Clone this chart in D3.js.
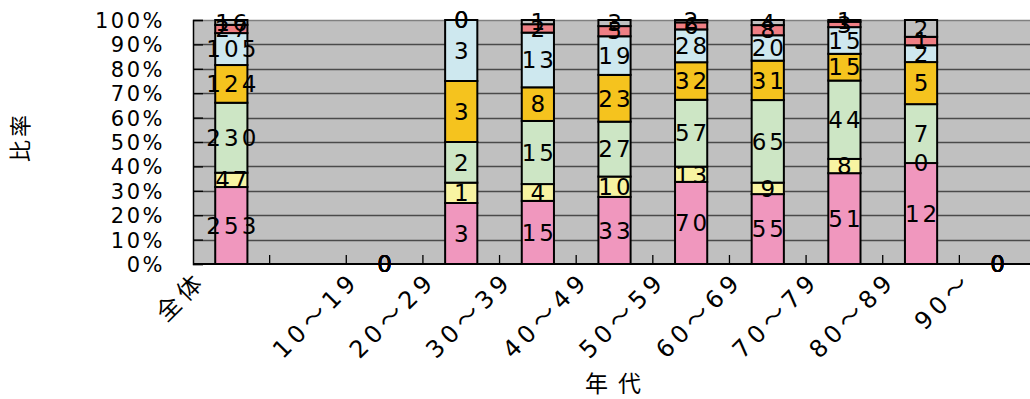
<!DOCTYPE html>
<html>
<head>
<meta charset="utf-8">
<script src="https://cdn.jsdelivr.net/npm/d3@7"></script>
<style>
  html, body { margin: 0; padding: 0; background: #fff; }
  svg { display: block; }
  text { font-family: "DejaVu Sans", "Noto Sans CJK JP", sans-serif; fill: #000; }
</style>
</head>
<body>
<svg id="chart" width="1030" height="399"></svg>
<script>
// Age groups (second slot is an empty spacer column)
const categories = ["全体", "", "10～19", "20～29", "30～39", "40～49", "50～59", "60～69", "70～79", "80～89", "90～"];

// Respondent counts per group, stacked bottom to top
const seriesA = [253, null, 0, 3, 15, 33, 70, 55, 51, 12, 0];
const seriesB = [47,  null, 0, 1, 4, 10, 13, 9, 8, 0, 0];
const seriesC = [230, null, 0, 2, 15, 27, 57, 65, 44, 7, 0];
const seriesD = [124, null, 0, 3, 8, 23, 32, 31, 15, 5, 0];
const seriesE = [105, null, 0, 3, 13, 19, 28, 20, 15, 2, 0];
const seriesF = [27,  null, 0, 0, 2, 5, 6, 8, 3, 1, 0];
const seriesG = [16,  null, 0, 0, 1, 3, 2, 4, 1, 2, 0];

const seriesList = [seriesA, seriesB, seriesC, seriesD, seriesE, seriesF, seriesG];
const seriesColors = ["#f097be", "#f8f4a2", "#cde6c5", "#f5c31e", "#cee8ef", "#ef7f84", "#c0c0c0"];

const yTicks = [0, 0.1, 0.2, 0.3, 0.4, 0.5, 0.6, 0.7, 0.8, 0.9, 1.0];

const svg = d3.select("#chart");
const plot = { left: 193, right: 1036, top: 20, bottom: 264 };

const x = d3.scaleBand().domain(d3.range(categories.length)).range([plot.left, plot.right]).paddingInner(0).paddingOuter(0);
const y = d3.scaleLinear().domain([0, 1]).range([plot.bottom, plot.top]);
const barW = x.bandwidth() * 0.42;

// plot background
svg.append("rect")
  .attr("x", plot.left).attr("y", plot.top)
  .attr("width", plot.right - plot.left).attr("height", plot.bottom - plot.top)
  .attr("fill", "#c0c0c0");

// horizontal gridlines
svg.append("g").selectAll("line").data(yTicks.filter(d => d > 0)).join("line")
  .attr("x1", plot.left).attr("x2", plot.right)
  .attr("y1", d => Math.round(y(d)) + 0.5).attr("y2", d => Math.round(y(d)) + 0.5)
  .attr("stroke", d => d === 1 ? "#808080" : "#4a4a4a").attr("stroke-width", 1.3);

// stacked segments
const stacks = categories.map((c, i) => {
  const vals = seriesList.map(s => s[i]);
  if (vals[0] === null) return null;
  const total = d3.sum(vals);
  let acc = 0;
  return vals.map((v, k) => {
    const y0 = total ? acc / total : 0;
    acc += v;
    const y1 = total ? acc / total : 0;
    return { i, k, v, y0, y1 };
  });
}).filter(d => d);

const segs = stacks.flat();

svg.append("g").selectAll("rect").data(segs.filter(d => d.v > 0)).join("rect")
  .attr("x", d => x(d.i) + (x.bandwidth() - barW) / 2)
  .attr("width", barW)
  .attr("y", d => y(d.y1))
  .attr("height", d => y(d.y0) - y(d.y1))
  .attr("fill", d => seriesColors[d.k])
  .attr("stroke", "#000").attr("stroke-width", 2);

// axes
const yAxis = d3.axisLeft(y).tickValues(yTicks).tickSize(-10).tickFormat(d3.format(".0%"));
const gy = svg.append("g").attr("transform", `translate(${plot.left},0)`).call(yAxis);
gy.select(".domain").attr("stroke", "#000").attr("stroke-width", 1.5);
gy.selectAll(".tick line").attr("stroke", "#000").attr("stroke-width", 1.3);
gy.selectAll(".tick text")
  .attr("x", -28).attr("dy", "0.36em")
  .style("font-size", "21px").style("letter-spacing", "2.5px");

svg.append("line")
  .attr("x1", plot.left).attr("x2", plot.right)
  .attr("y1", plot.bottom).attr("y2", plot.bottom)
  .attr("stroke", "#000").attr("stroke-width", 2);
svg.append("g").selectAll("line").data(d3.range(1, categories.length)).join("line")
  .attr("x1", d => x(d)).attr("x2", d => x(d))
  .attr("y1", plot.bottom).attr("y2", plot.bottom - 9)
  .attr("stroke", "#000").attr("stroke-width", 1.3);

// rotated category labels
svg.append("g").selectAll("text").data(categories.map((c, i) => ({ c, i })).filter(d => d.c)).join("text")
  .attr("transform", d => `translate(${x(d.i) + x.bandwidth() / 2 - 24},${282}) rotate(-45)`)
  .attr("text-anchor", "end")
  .style("font-size", "24px").style("letter-spacing", "5px")
  .text(d => d.c);

// value labels centred on each segment
svg.append("g").selectAll("text").data(segs).join("text")
  .attr("x", d => x(d.i) + x.bandwidth() / 2 + 1.5)
  .attr("y", d => y((d.y0 + d.y1) / 2))
  .attr("dy", "0.36em")
  .attr("text-anchor", "middle")
  .style("font-size", "23px").style("letter-spacing", "3px")
  .text(d => d.v);

// axis titles
svg.append("text")
  .attr("transform", "translate(28,137) rotate(-90)")
  .attr("text-anchor", "middle")
  .style("font-size", "22px").style("letter-spacing", "3px")
  .text("比率");

svg.append("text")
  .attr("x", 618).attr("y", 392)
  .attr("text-anchor", "middle")
  .style("font-size", "23px").style("letter-spacing", "10px")
  .text("年代");
</script>
</body>
</html>
